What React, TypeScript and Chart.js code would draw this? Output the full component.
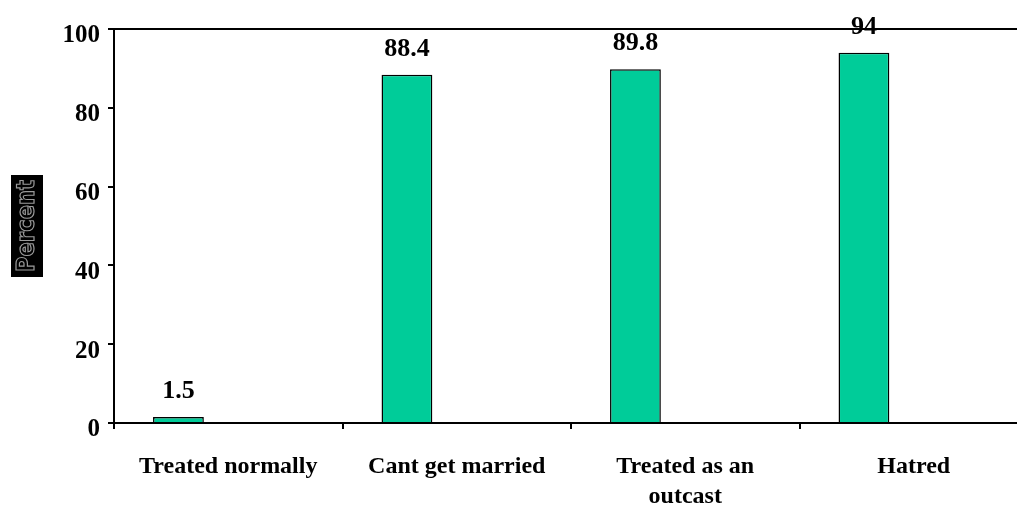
import { useEffect, useRef } from "react";
import { Chart, registerables } from "chart.js";

Chart.register(...registerables);

const categories: string[][] = [
  ["Treated normally"],
  ["Cant get married"],
  ["Treated as an", "outcast"],
  ["Hatred"],
];
const percentValues: number[] = [1.5, 88.4, 89.8, 94];
const placeholderValues: (number | null)[] = [null, null, null, null];
const yMin = 0;
const yMax = 100;
const yStep = 20;
const yTitle = "Percent";
const barColor = "#00CC99";

export default function App() {
  const ref = useRef<HTMLCanvasElement>(null);

  useEffect(() => {
    const canvas = ref.current;
    if (!canvas) return;

    const valueLabels = {
      id: "valueLabels",
      afterDatasetsDraw(chart: any) {
        const ctx = chart.ctx;
        const meta = chart.getDatasetMeta(0);
        ctx.save();
        ctx.font = 'bold 26px "Liberation Serif"';
        ctx.fillStyle = "#000";
        ctx.textAlign = "center";
        ctx.textBaseline = "alphabetic";
        meta.data.forEach((el: any, i: number) => {
          ctx.fillText(String(percentValues[i]), el.x, el.y - 19);
        });
        ctx.restore();
      },
    };

    const titleBox = {
      id: "titleBox",
      afterDraw(chart: any) {
        const ctx = chart.ctx;
        const ca = chart.chartArea;
        const cy = (ca.top + ca.bottom) / 2;
        ctx.save();
        ctx.fillStyle = "#000";
        ctx.fillRect(11, cy - 51, 32, 102);
        ctx.translate(27, cy);
        ctx.rotate(-Math.PI / 2);
        ctx.font = 'bold 24px "DejaVu Sans"';
        ctx.textAlign = "center";
        ctx.textBaseline = "middle";
        ctx.strokeStyle = "#9a9a9a";
        ctx.lineWidth = 1.2;
        ctx.strokeText(yTitle, 0, 1, 92);
        ctx.restore();
      },
    };

    const chart = new Chart(canvas, {
      type: "bar",
      data: {
        labels: categories,
        datasets: [
          {
            data: percentValues,
            backgroundColor: barColor,
            borderColor: "#000",
            borderWidth: 1.5,
            categoryPercentage: 0.872,
            barPercentage: 0.51,
          },
          {
            data: placeholderValues as any,
            backgroundColor: barColor,
            borderColor: "#000",
            borderWidth: 1.5,
            categoryPercentage: 0.872,
            barPercentage: 0.51,
          },
        ],
      },
      options: {
        responsive: false,
        animation: false,
        devicePixelRatio: 1,
        layout: { padding: { top: 29, right: 12, left: 0, bottom: 0 } },
        plugins: {
          legend: { display: false },
          tooltip: { enabled: false },
        },
        scales: {
          x: {
            grid: {
              display: true,
              drawOnChartArea: false,
              offset: true,
              color: "#000",
              tickLength: 6,
              lineWidth: 2,
            },
            border: { color: "#000", width: 2 },
            ticks: {
              font: { family: '"Liberation Serif"', size: 24, weight: "bold", lineHeight: 1.25 },
              color: "#000",
              padding: 23,
              maxRotation: 0,
              autoSkip: false,
            },
            afterFit: (s: any) => {
              s.height = 87;
            },
          },
          y: {
            min: yMin,
            max: yMax,
            ticks: {
              stepSize: yStep,
              font: { family: '"Liberation Serif"', size: 25, weight: "bold" },
              color: "#000",
              padding: 8,
              labelOffset: 7,
            },
            grid: {
              color: (c: any) => (c.tick && c.tick.value === yMax ? "#000" : "rgba(0,0,0,0)"),
              tickColor: "#000",
              tickLength: 6,
              lineWidth: 2,
            },
            border: { color: "#000", width: 2 },
            afterFit: (s: any) => {
              s.width = 114;
            },
          },
        },
      },
      plugins: [valueLabels, titleBox],
    });

    return () => chart.destroy();
  }, []);

  return (
    <div
      style={{
        position: "absolute",
        left: 0,
        top: 0,
        width: 1017,
        height: 510,
        overflow: "hidden",
        background: "#fff",
      }}
    >
      <canvas ref={ref} width={1040} height={510} style={{ width: 1040, height: 510, display: "block" }} />
    </div>
  );
}
